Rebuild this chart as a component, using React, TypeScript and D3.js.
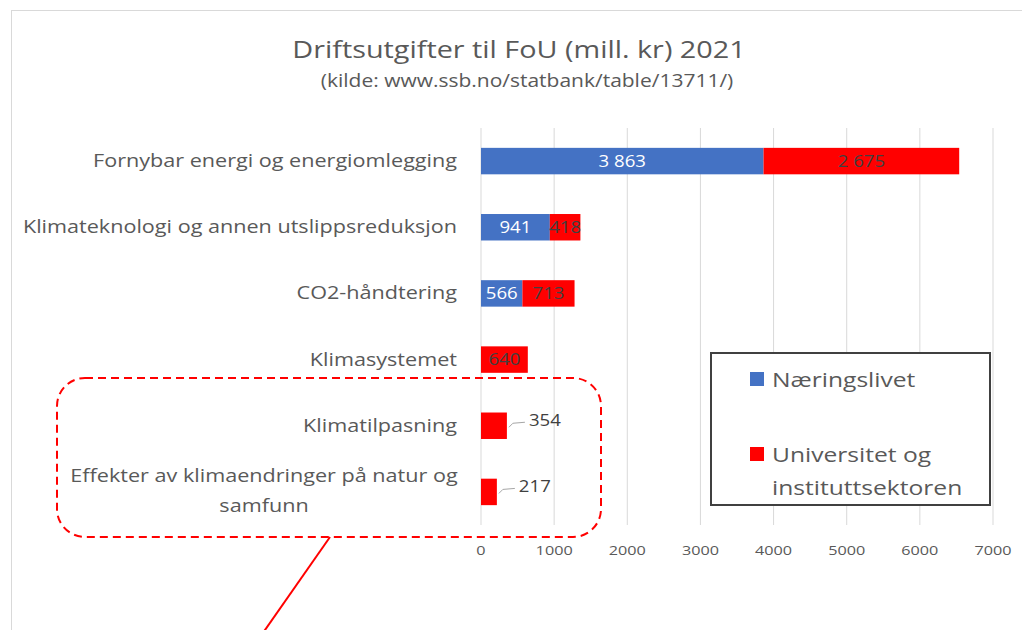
import React, { useEffect, useRef } from "react";
import * as d3 from "d3";

const categories = [
  "Fornybar energi og energiomlegging",
  "Klimateknologi og annen utslippsreduksjon",
  "CO2-håndtering",
  "Klimasystemet",
  "Klimatilpasning",
  "Effekter av klimaendringer på natur og samfunn",
];
const naeringslivet = [3863, 941, 566, 0, 0, 0];
const universitet = [2675, 418, 713, 640, 354, 217];
const xTicks = [0, 1000, 2000, 3000, 4000, 5000, 6000, 7000];
const seriesNames = ["Næringslivet", "Universitet og instituttsektoren"];

const BLUE = "#4472c4";
const RED = "#ff0000";
const GREY = "#595959";
const FONT = "'Open Sans', 'Noto Sans', sans-serif";
// the source picture is stretched sideways, so text is widened a bit
const SX = 1.2;

const fmt = (v: number) => d3.format(",")(v).replace(/,/g, " ");

export default function App() {
  const ref = useRef<SVGSVGElement>(null);

  useEffect(() => {
    const svg = d3.select(ref.current);
    svg.selectAll("*").remove();

    const width = 1030;
    const height = 634;
    const margin = { top: 128, right: 37, bottom: 109, left: 481 };

    svg.attr("width", width).attr("height", height);

    const label = (g: any, x: number, y: number, str: string, size: number, anchor = "start", fill = GREY) =>
      g.append("text")
        .attr("transform", `translate(${x},${y}) scale(${SX},1)`)
        .attr("text-anchor", anchor)
        .attr("font-family", FONT)
        .attr("font-size", size)
        .attr("fill", fill)
        .text(str);

    // chart frame
    svg.append("rect")
      .attr("x", 11.5).attr("y", 10.5)
      .attr("width", width + 20).attr("height", height + 20)
      .attr("fill", "#fff").attr("stroke", "#d9d9d9");

    const x = d3.scaleLinear()
      .domain([0, 7000])
      .range([margin.left, width - margin.right]);

    const y = d3.scaleBand()
      .domain(categories)
      .range([margin.top, height - margin.bottom])
      .paddingInner(0.6)
      .paddingOuter(0.3);

    // gridlines
    svg.append("g")
      .selectAll("line")
      .data(xTicks)
      .enter()
      .append("line")
      .attr("x1", d => x(d)).attr("x2", d => x(d))
      .attr("y1", margin.top).attr("y2", height - margin.bottom)
      .attr("stroke", "#d9d9d9");

    // x tick labels
    const tg = svg.append("g");
    xTicks.forEach(t => label(tg, x(t), 555, String(t), 13.5, "middle"));

    // category labels
    const catG = svg.append("g");
    categories.forEach((c, i) => {
      const cy = y(c)! + y.bandwidth() / 2;
      if (i === 5) {
        label(catG, 264, cy - 10, "Effekter av klimaendringer på natur og", 18, "middle");
        label(catG, 264, cy + 20, "samfunn", 18, "middle");
      } else {
        label(catG, 457, cy + 6, c, 18, "end");
      }
    });

    const rows = categories.map((c, i) => ({ c, a: naeringslivet[i], b: universitet[i] }));

    // blue bars
    svg.append("g")
      .selectAll("rect")
      .data(rows.filter(d => d.a > 0))
      .enter()
      .append("rect")
      .attr("x", x(0))
      .attr("y", d => y(d.c)!)
      .attr("width", d => x(d.a) - x(0))
      .attr("height", y.bandwidth())
      .attr("fill", BLUE);

    // red bars
    svg.append("g")
      .selectAll("rect")
      .data(rows)
      .enter()
      .append("rect")
      .attr("x", d => x(d.a))
      .attr("y", d => y(d.c)!)
      .attr("width", d => x(d.a + d.b) - x(d.a))
      .attr("height", y.bandwidth())
      .attr("fill", RED);

    // data labels
    const lbl = svg.append("g");
    rows.forEach(d => {
      const cy = y(d.c)! + y.bandwidth() / 2 + 5.5;
      if (d.a > 0) {
        label(lbl, (x(0) + x(d.a)) / 2, cy, fmt(d.a), 15.5, "middle", "#fff");
      }
      if (d.b >= 418 || d.a > 0) {
        label(lbl, (x(d.a) + x(d.a + d.b)) / 2, cy, fmt(d.b), 15.5, "middle", "#404040");
      } else {
        const xe = x(d.a + d.b);
        lbl.append("path")
          .attr("d", `M${xe + 2},${cy - 4} L${xe + 6},${cy - 8} L${xe + 18},${cy - 9}`)
          .attr("fill", "none").attr("stroke", "#a6a6a6");
        label(lbl, xe + 22, cy - 5, fmt(d.b), 15.5, "start", "#404040");
      }
    });

    // title
    label(svg, 519, 58, "Driftsutgifter til FoU (mill. kr) 2021", 24, "middle");
    label(svg, 527, 87, "(kilde: www.ssb.no/statbank/table/13711/)", 17.5, "middle");

    // legend
    const lg = svg.append("g");
    lg.append("rect")
      .attr("x", 711).attr("y", 353).attr("width", 279).attr("height", 152)
      .attr("fill", "#fff").attr("stroke", "#404040").attr("stroke-width", 2);
    const legendRows = [
      { color: BLUE, y: 372, lines: [seriesNames[0]] },
      { color: RED, y: 447, lines: ["Universitet og", "instituttsektoren"] },
    ];
    legendRows.forEach(r => {
      lg.append("rect").attr("x", 750).attr("y", r.y).attr("width", 14).attr("height", 14).attr("fill", r.color);
      r.lines.forEach((ln, j) => label(lg, 772, r.y + 15 + j * 33, ln, 20.5));
    });

    // highlight annotation
    svg.append("rect")
      .attr("x", 57).attr("y", 378).attr("width", 544).attr("height", 159)
      .attr("rx", 28).attr("ry", 28)
      .attr("fill", "none").attr("stroke", RED)
      .attr("stroke-width", 2).attr("stroke-dasharray", "8,5");
    svg.append("line")
      .attr("x1", 330).attr("y1", 537).attr("x2", 258).attr("y2", 640)
      .attr("stroke", RED).attr("stroke-width", 2);
  }, []);

  return (
    <div style={{ margin: -8 }}>
      <svg ref={ref}></svg>
    </div>
  );
}
